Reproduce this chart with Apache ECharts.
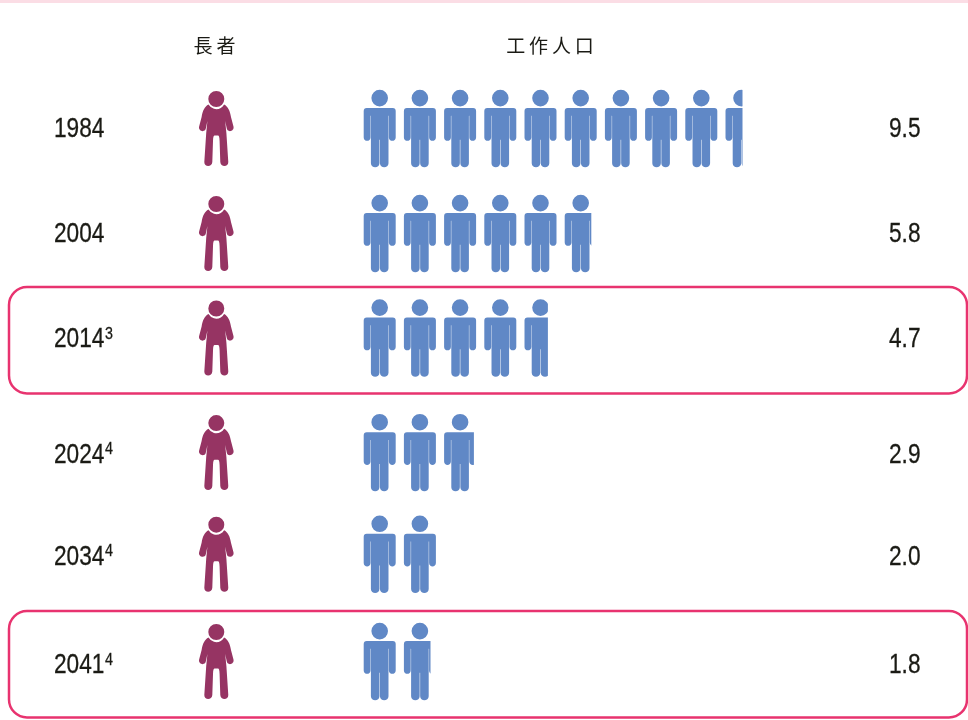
<!DOCTYPE html>
<html>
<head>
<meta charset="utf-8">
<style>html,body{margin:0;padding:0;background:#fff}#chart{width:968px;height:720px}</style>
<script src="https://cdn.jsdelivr.net/npm/echarts@6/dist/echarts.min.js"></script>
</head>
<body>
<div id="chart"></div>
<script>
// Workers available per elder, by year
var years = ['1984', '2004', '2014', '2024', '2034', '2041'];
var yearNotes = ['', '', '3', '4', '4', '4'];
var elders = [1, 1, 1, 1, 1, 1];
var workers = [9.5, 5.8, 4.7, 2.9, 2.0, 1.8];
var headers = ['長\u2009者', '工\u2009作\u2009人\u2009口'];

// Layout and style settings
var BLUE = '#6088c6', MAROON = '#963463', PINK = '#e8336f', INK = '#1a1a14';
var NUM_FONT = '"Liberation Sans",sans-serif';
var NARROW = 0.84;
var PITCH = 40.2, WORKER_W = 32, WORKER_H = 77.4, ELDER_W = 34.6, ELDER_H = 75;
var ICON_LEFT = 363.7, ELDER_LEFT = 199;
var ROW_TOP = 128, ROW_STEP = 107.2;
var iconShift = [0.5, -1.7, -4.4, 3, -2.6, -2.5];
var labelShift = [2, -0.2, -2.4, 6, 1, 2];

var WORKER_PATH = 'M24.3 8.3A8.3 8.3 0 1 1 7.7 8.3A8.3 8.3 0 1 1 24.3 8.3Z' +
  'M3 18.3H29Q32 18.3 32 21.3V47.6C32 52.2 25.2 52.2 25.2 47.6V26H24.8V73.4C24.8 78.7 16.25 78.7 16.25 73.4V50H15.75V73.4' +
  'C15.75 78.7 7.2 78.7 7.2 73.4V26H6.8V47.6C6.8 52.2 0 52.2 0 47.6V21.3Q0 18.3 3 18.3Z';
var ELDER_PATH = 'M25.3 8A8 8 0 1 1 9.3 8A8 8 0 1 1 25.3 8Z' +
  'M9.5 13.6A9 9 0 0 0 25.1 13.6C29 15.5 31 20 32 26L34.5 35.5C35.6 40.2 28.9 42 27.8 37.6L26.2 30' +
  'C26.6 34 27 38 27.4 42L29.3 71C29.5 76.3 21.5 76.3 21.3 71L20.6 50C20.4 46 20 44.6 19 44.6H15.6' +
  'C14.6 44.6 14.2 46 14 50L13.3 71C13.1 76.3 5.1 76.3 5.3 71L7.2 42C7.6 38 8 34 8.4 30L6.8 37.6' +
  'C5.7 42 -1 40.2 0.1 35.5L2.6 26C3.6 20 5.6 15.5 9.5 13.6Z';

function rowBox(top) {
  return {
    type: 'rect',
    shape: { x: 9, y: top, width: 958, height: 106.5, r: 18 },
    style: { fill: 'none', stroke: PINK, lineWidth: 2.5 }
  };
}

function narrowText(x, y, text, size) {
  return {
    type: 'text',
    x: x,
    y: y,
    scaleX: NARROW,
    style: { x: 0, y: 0, text: text, fill: INK, stroke: INK, lineWidth: 0.3, font: size + 'px ' + NUM_FONT, verticalAlign: 'middle', align: 'left' }
  };
}

// Icons for one row: whole figures followed by a figure cut at the fraction
function renderRow(params, api) {
  var yearIndex = api.value(0);
  var count = api.value(1);
  var base = api.coord([0, yearIndex]);
  var iconMid = base[1] + iconShift[yearIndex];
  var labelMid = base[1] + labelShift[yearIndex];
  var children = [];
  var whole = Math.floor(count + 1e-9);
  var total = Math.ceil(count - 1e-9);
  for (var k = 0; k < total; k++) {
    var left = api.coord([k, yearIndex])[0];
    var frac = k < whole ? 1 : count - whole;
    children.push({
      type: 'path',
      shape: { pathData: WORKER_PATH, x: left, y: iconMid - WORKER_H / 2, width: WORKER_W, height: WORKER_H, layout: 'cover' },
      style: { fill: BLUE },
      clipPath: { type: 'rect', shape: { x: left - 1, y: iconMid - 50, width: WORKER_W * frac + 2, height: 100 } }
    });
  }
  children.push({
    type: 'path',
    shape: { pathData: ELDER_PATH, x: ELDER_LEFT, y: iconMid - ELDER_H / 2, width: ELDER_W, height: ELDER_H, layout: 'cover' },
    style: { fill: MAROON }
  });
  children.push(narrowText(54, labelMid, years[yearIndex], 27));
  if (yearNotes[yearIndex]) {
    children.push(narrowText(105, labelMid - 6, yearNotes[yearIndex], 17));
  }
  children.push(narrowText(889, labelMid, count.toFixed(1), 27));
  return { type: 'group', children: children };
}

var chart = echarts.init(document.getElementById('chart'), null, { renderer: 'canvas' });
chart.setOption({
  animation: false,
  backgroundColor: '#fff',
  grid: { left: ICON_LEFT, width: PITCH * 10, top: ROW_TOP - ROW_STEP / 2, height: ROW_STEP * years.length },
  xAxis: { type: 'value', min: 0, max: 10, show: false },
  yAxis: { type: 'category', data: years, inverse: true, show: false },
  graphic: [
    { type: 'rect', shape: { x: 0, y: 0, width: 968, height: 3 }, style: { fill: '#fbdde5' } },
    rowBox(287),
    rowBox(611),
    { type: 'text', style: { x: 214.5, y: 46, text: headers[0], fill: INK, font: '19px "Noto Sans CJK TC"', align: 'center', verticalAlign: 'middle' } },
    { type: 'text', style: { x: 550, y: 46, text: headers[1], fill: INK, font: '19px "Noto Sans CJK TC"', align: 'center', verticalAlign: 'middle' } }
  ],
  series: [{
    type: 'custom',
    coordinateSystem: 'cartesian2d',
    clip: false,
    silent: true,
    encode: { x: 1, y: 0 },
    data: workers.map(function (v, i) { return [i, v, elders[i]]; }),
    renderItem: renderRow
  }]
});
</script>
</body>
</html>
